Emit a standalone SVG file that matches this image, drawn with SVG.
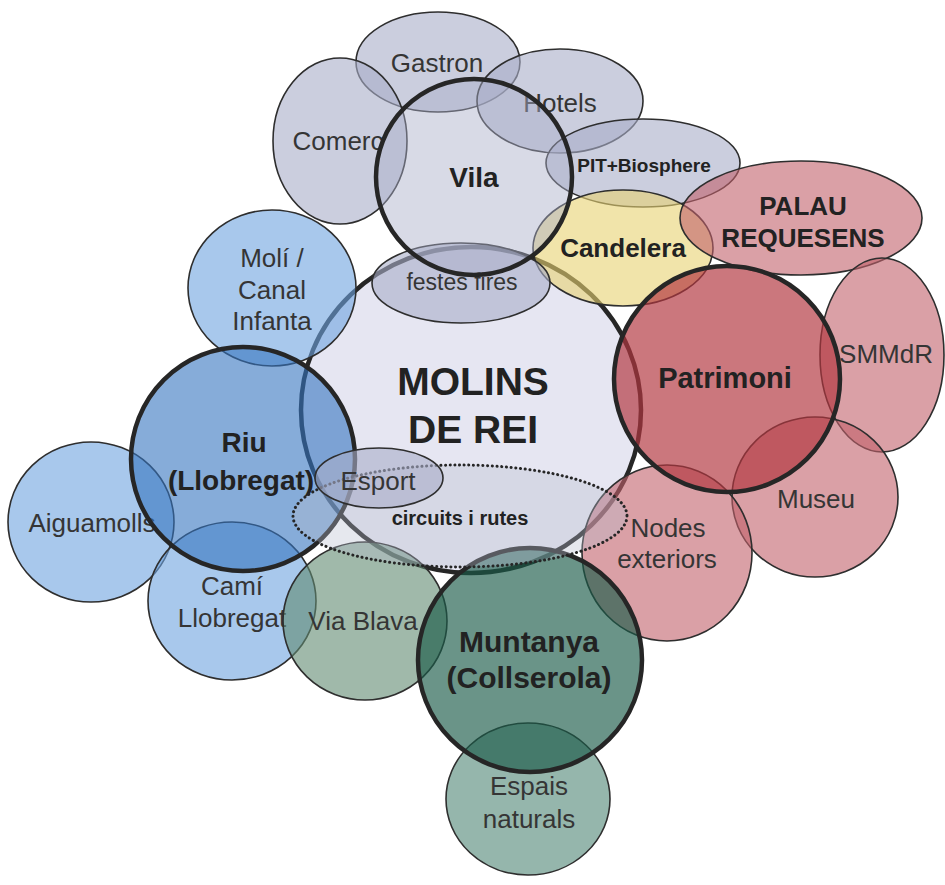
<svg xmlns="http://www.w3.org/2000/svg" width="945" height="885" viewBox="0 0 945 885">
<style>
  text{font-family:"Liberation Sans",Arial,Helvetica,sans-serif;text-anchor:middle;fill:#353535;font-size:26px}
  .b{font-weight:bold;fill:#222}
  .thin{stroke:#2e2e2e;stroke-width:1.6}
  .thick{stroke:#262626;stroke-width:4.5}
  .gray{fill:#a8adc8;fill-opacity:0.6}
  .main{fill:#d6d6ea;fill-opacity:0.6}
  .blue{fill:#6ea3df;fill-opacity:0.6}
  .blueD{fill:#3574c0;fill-opacity:0.6}
  .green{fill:#618a71;fill-opacity:0.6}
  .greenD{fill:#1a5a48;fill-opacity:0.65}
  .greenL{fill:#4f8575;fill-opacity:0.6}
  .red{fill:#c1616a;fill-opacity:0.6}
  .redD{fill:#b3363f;fill-opacity:0.68}
  .yellow{fill:#e8d271;fill-opacity:0.6}
  .dot{fill:#b8bccf;fill-opacity:0.35;stroke:#262626;stroke-width:3;stroke-dasharray:0.1 4.6;stroke-linecap:round}
</style>
<rect width="945" height="885" fill="#ffffff"/>
<g id="molins-de-rei"><ellipse cx="471" cy="410" rx="170" ry="163" class="main thick"/></g>
<g id="gastron"><ellipse cx="438" cy="62" rx="82" ry="50" class="gray thin"/><text x="437" y="72">Gastron</text></g>
<g id="comerc"><ellipse cx="340" cy="141" rx="67" ry="83" class="gray thin"/><text x="338" y="150">Comerc</text></g>
<g id="hotels"><ellipse cx="560" cy="101" rx="83" ry="52" class="gray thin"/><text x="560" y="112">Hotels</text></g>
<g id="pit-biosphere"><ellipse cx="643" cy="163" rx="97" ry="44" class="gray thin"/><text x="644" y="172" class="b" style="font-size:19px">PIT+Biosphere</text></g>
<g id="candelera"><ellipse cx="623" cy="248" rx="90" ry="58" class="yellow thin"/></g>
<g id="palau-requesens"><ellipse cx="801" cy="218" rx="121" ry="57" class="red thin"/><text x="803" y="215" class="b">PALAU</text><text x="803" y="247" class="b">REQUESENS</text></g>
<g id="smmdr"><ellipse cx="882" cy="355" rx="62" ry="97" class="red thin"/><text x="886" y="363">SMMdR</text></g>
<g id="museu"><ellipse cx="815" cy="497" rx="83" ry="80" class="red thin"/><text x="816" y="508">Museu</text></g>
<g id="nodes-exteriors"><ellipse cx="667" cy="553" rx="85" ry="88" class="red thin"/><text x="668" y="537">Nodes</text><text x="667" y="568">exteriors</text></g>
<g id="moli-canal"><ellipse cx="272" cy="288" rx="84" ry="78" class="blue thin"/><text x="272" y="267">Molí /</text><text x="272" y="299">Canal</text><text x="272" y="330">Infanta</text></g>
<g id="aiguamolls"><ellipse cx="91" cy="522" rx="83" ry="80" class="blue thin"/><text x="92" y="532">Aiguamolls</text></g>
<g id="cami-llobregat"><ellipse cx="232" cy="601" rx="84" ry="79" class="blue thin"/><text x="232" y="595">Camí</text><text x="232" y="627">Llobregat</text></g>
<g id="via-blava"><ellipse cx="365" cy="621" rx="82" ry="79" class="green thin"/><text x="363" y="630">Via Blava</text></g>
<g id="espais-naturals"><ellipse cx="528" cy="799" rx="82" ry="76" class="greenL thin"/><text x="529" y="795">Espais</text><text x="529" y="828">naturals</text></g>
<g id="festes-fires"><ellipse cx="461" cy="283" rx="89" ry="40" class="gray thin"/><text x="462" y="290" style="font-size:23px">festes fires</text></g>
<g id="vila"><circle cx="474" cy="177" r="98" class="gray thick" style="fill-opacity:0.45"/><text x="474" y="187" class="b" style="font-size:28px">Vila</text></g>
<g id="candelera-label"><text x="623" y="257" class="b">Candelera</text></g>
<g id="patrimoni"><circle cx="727" cy="379" r="113" class="redD thick"/><text x="725" y="388" class="b" style="font-size:29px">Patrimoni</text></g>
<g id="riu"><circle cx="243" cy="459" r="112" class="blueD thick"/><text x="244" y="452" class="b" style="font-size:28px">Riu</text><text x="241" y="490" class="b" style="font-size:28px">(Llobregat)</text></g>
<g id="muntanya"><circle cx="530" cy="660" r="112" class="greenD thick"/><text x="529" y="652" class="b" style="font-size:30px">Muntanya</text><text x="529" y="688" class="b" style="font-size:30px">(Collserola)</text></g>
<g id="circuits-rutes"><ellipse cx="460" cy="516" rx="167" ry="51" class="dot"/><text x="460" y="525" class="b" style="font-size:20px">circuits i rutes</text></g>
<g id="esport"><ellipse cx="379" cy="478" rx="64" ry="30" class="gray thin"/><text x="378" y="490">Esport</text></g>
<g id="molins-label"><text x="473" y="395" class="b" style="font-size:39px">MOLINS</text><text x="473" y="443" class="b" style="font-size:39px">DE REI</text></g>
<g id="connectors"></g>
</svg>
